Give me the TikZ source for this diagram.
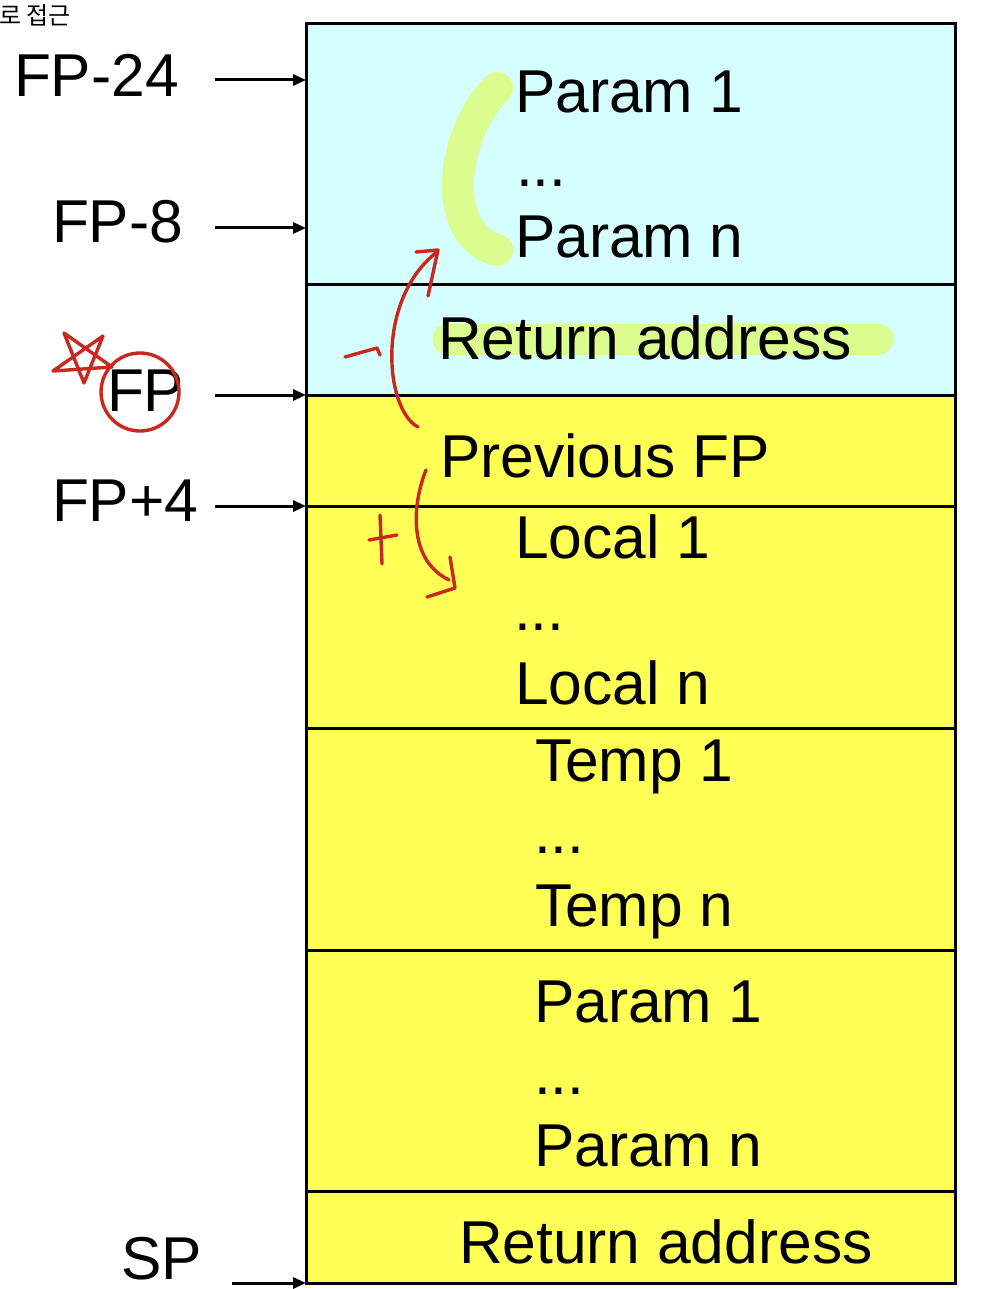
\documentclass[tikz,border=0pt]{standalone}
\usepackage{fontspec}
\setmainfont{Liberation Sans}
\newfontfamily\krfont{Noto Sans CJK KR}
\usetikzlibrary{arrows.meta}
\definecolor{stackcyan}{RGB}{213,255,255}
\definecolor{stackyellow}{RGB}{255,255,85}
\definecolor{hlgreen}{RGB}{219,252,142}
\definecolor{penred}{RGB}{200,40,30}
\begin{document}
\begin{tikzpicture}[x=1pt,y=-1pt,
  txt/.style={anchor=base west,inner sep=0pt,outer sep=0pt,font=\fontsize{60.5}{62}\selectfont},
  ptr/.style={line width=3pt,-{Triangle[length=13pt,width=11pt]}},
  pen/.style={draw=penred,line width=3.4pt,line cap=round,line join=round},
  hl/.style={draw=hlgreen,line width=32pt,line cap=round}]
\useasboundingbox (0,0) rectangle (1000,1289);
% stack background
\fill[stackcyan] (306,24) rectangle (955,395);
\fill[stackyellow] (306,395) rectangle (955,1283);
% highlights
\draw[hl] (497,88) .. controls (450,135) and (440,235) .. (497,250);
\draw[hl,line width=31pt] (448,339) -- (878,339);
% dividers and frame
\foreach \yy in {284,395,506,728,950,1191}
  \draw[line width=3pt] (306,\yy) -- (955,\yy);
\draw[line width=3pt] (306,24) rectangle (955,1283);
% slot texts
\node[txt] (p1) at (515,113) {Param 1};
\node[txt] (pd) at (516,187) {...};
\node[txt] (pn) at (515,257) {Param n};
\node[txt] (ra) at (438,359) {Return address};
\node[txt] (pf) at (440,477) {Previous FP};
\node[txt] (l1) at (515,558) {Local 1};
\node[txt] (ld) at (514,630) {...};
\node[txt] (ln) at (515,704) {Local n};
\node[txt] (t1) at (535,781) {Temp 1};
\node[txt] (td) at (534,853) {...};
\node[txt] (tn) at (535,926) {Temp n};
\node[txt] (q1) at (534,1022) {Param 1};
\node[txt] (qd) at (534,1094) {...};
\node[txt] (qn) at (534,1166) {Param n};
\node[txt] (rb) at (459,1263) {Return address};
% left labels
\node[txt] (lfp24) at (14,97) {FP-24};
\node[txt] (lfp8) at (52,243) {FP-8};
\node[txt] (lfp) at (107,411) {FP};
\node[txt] (lfp4) at (52,521) {FP+4};
\node[txt] (lsp) at (121,1279) {SP};
\node[anchor=base west,inner sep=0pt,font=\krfont\fontsize{24}{26}\selectfont] (kr) at (-1,25) {로 접근};
% pointer arrows
\coordinate (s24) at (215,80);  \coordinate (e24) at (306,80);
\coordinate (s8) at (215,228);  \coordinate (e8) at (306,228);
\coordinate (sf) at (215,395);  \coordinate (ef) at (306,395);
\coordinate (s4) at (215,506);  \coordinate (e4) at (306,506);
\coordinate (ss) at (232,1283); \coordinate (es) at (306,1283);
\draw[ptr] (s24) -- (e24);
\draw[ptr] (s8) -- (e8);
\draw[ptr] (sf) -- (ef);
\draw[ptr] (s4) -- (e4);
\draw[ptr] (ss) -- (es);
% red pen annotations
\node[circle,pen,minimum size=78pt,inner sep=0pt] (circ) at (140,392) {};
\draw[pen] (64,333) -- (84,383) -- (103,336) -- (53,371) -- (112,367) -- cycle;
\draw[pen] (418,427) .. controls (385,410) and (375,300) .. (437,252);
\draw[pen] (416,252) -- (438,250) -- (428,296);
\draw[pen] (345,357) -- (377,348) -- (380,355);
\draw[pen] (426,470) .. controls (412,505) and (408,560) .. (449,580);
\draw[pen] (450,557) -- (455,588) -- (427,597);
\draw[pen] (380,515) -- (382,564);
\draw[pen] (369,540) -- (397,535);
\end{tikzpicture}
\end{document}
